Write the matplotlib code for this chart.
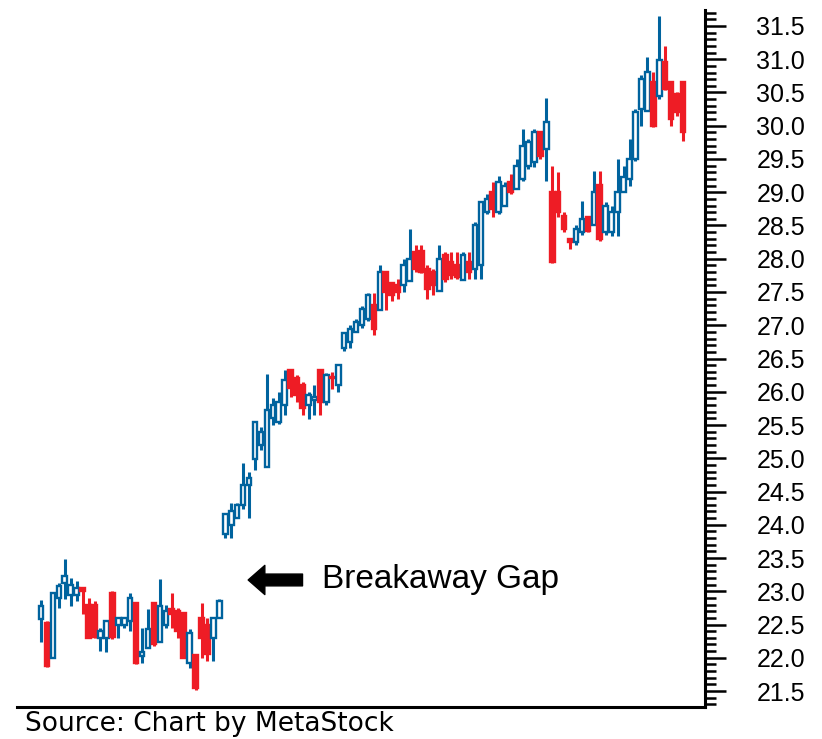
import matplotlib.pyplot as plt
from matplotlib.ticker import MultipleLocator

# Daily prices (open, high, low, close)
opens = [22.58, 22.53, 22.0, 22.9, 23.13, 22.95, 22.95, 23.05, 22.8, 22.8,
         22.3, 22.3, 22.98, 22.5, 22.5, 22.55, 22.83, 22.02, 22.14, 22.83,
         22.23, 22.5, 22.74, 22.7, 22.68, 21.92, 22.04, 22.6, 22.5, 22.3,
         22.6,
         23.86, 24.0, 24.1, 24.3, 24.6, 24.99, 25.2, 24.87, 25.6, 25.55,
         25.8, 26.33, 26.2, 26.1, 25.8, 25.88, 26.33, 25.85, 26.22, 26.1,
         26.66, 26.75, 26.9, 27.0, 27.1, 27.3, 27.23, 27.8, 27.63, 27.6,
         27.6, 27.66, 28.1, 28.11, 27.85, 27.8, 27.52, 28.05, 27.95, 27.9,
         27.68, 27.95, 27.85,
         27.9, 28.7, 29.0, 28.7, 28.8, 29.15, 29.05, 29.2, 29.4, 29.45,
         29.9, 29.65, 29.0, 29.0, 28.65, 28.3, 28.25, 28.4, 28.63, 28.5,
         29.11, 28.4, 28.4, 28.7, 29.0, 29.2, 29.5, 30.25, 30.22, 30.65,
         30.44, 30.96, 30.65, 30.47, 30.65]
highs = [22.87, 22.55, 22.97, 23.13, 23.48, 23.2, 23.15, 23.05, 22.9, 22.85,
         22.45, 22.56, 23.0, 22.6, 22.62, 22.97, 22.83, 22.45, 22.74, 22.83,
         23.18, 22.8, 22.97, 22.75, 22.68, 22.44, 22.06, 22.83, 22.6, 22.6,
         22.88,
         24.16, 24.32, 24.32, 24.93, 24.8, 25.54, 25.47, 26.26, 25.9, 26.0,
         26.33, 26.33, 26.25, 26.14, 25.99, 26.1, 26.33, 26.28, 26.3, 26.42,
         26.89, 27.0, 27.1, 27.29, 27.49, 27.49, 27.9, 27.8, 27.63, 27.7,
         28.0, 28.45, 28.2, 28.2, 27.9, 27.85, 28.2, 28.1, 28.1, 28.1,
         28.1, 28.1, 28.55,
         28.86, 28.97, 29.15, 29.25, 29.15, 29.27, 29.5, 29.95, 29.8, 29.95,
         29.9, 30.42, 29.39, 29.3, 28.7, 28.3, 28.5, 28.87, 28.63, 29.32,
         29.32, 28.85, 28.8, 29.5, 29.4, 29.8, 30.25, 30.77, 31.04, 30.81,
         31.65, 31.2, 30.65, 30.5, 30.65]
lows = [22.24, 21.86, 22.0, 22.75, 22.88, 22.78, 22.85, 22.66, 22.3, 22.3,
        22.1, 22.08, 22.28, 22.3, 22.45, 22.4, 21.9, 21.92, 22.14, 22.18,
        22.23, 22.45, 22.45, 22.3, 21.99, 21.84, 21.51, 22.0, 21.95, 21.95,
        22.6,
        23.8, 23.8, 24.1, 24.23, 24.1, 24.83, 25.13, 24.87, 25.5, 25.52,
        25.65, 25.92, 25.85, 25.65, 25.59, 25.65, 25.65, 25.8, 26.04, 26.0,
        26.62, 26.66, 26.9, 26.96, 27.07, 26.85, 27.23, 27.23, 27.36, 27.4,
        27.5, 27.66, 27.8, 27.78, 27.4, 27.45, 27.52, 27.65, 27.7, 27.7,
        27.68, 27.7, 27.7,
        27.7, 28.68, 28.63, 28.68, 28.8, 28.97, 29.05, 29.17, 29.35, 29.38,
        29.5, 29.17, 27.93, 28.63, 28.4, 28.15, 28.2, 28.35, 28.4, 28.5,
        28.26, 28.35, 28.34, 28.34, 29.0, 29.1, 29.47, 30.0, 30.22, 29.98,
        30.4, 30.54, 29.99, 30.14, 29.77]
closes = [22.78, 21.88, 22.97, 23.08, 23.23, 23.1, 23.05, 23.0, 22.3, 22.32,
          22.4, 22.56, 22.32, 22.6, 22.6, 22.9, 21.92, 22.08, 22.44, 22.2,
          22.78, 22.7, 22.66, 22.4, 22.0, 22.38, 21.55, 22.3, 22.05, 22.6,
          22.85,
          24.16, 24.2, 24.3, 24.6, 24.7, 25.54, 25.4, 25.72, 25.8, 25.85,
          26.18, 26.05, 25.95, 25.75, 25.95, 25.92, 25.85, 26.25, 26.2, 26.4,
          26.89, 26.95, 27.05, 27.25, 27.45, 26.95, 27.8, 27.5, 27.45, 27.5,
          27.9, 28.0, 27.85, 27.8, 27.55, 27.6, 28.0, 27.7, 27.75, 27.72,
          28.05, 27.8, 28.5,
          28.86, 28.9, 28.75, 29.15, 29.1, 29.0, 29.39, 29.7, 29.75, 29.9,
          29.55, 30.05, 27.95, 28.7, 28.45, 28.25, 28.45, 28.6, 28.42, 29.0,
          28.3, 28.8, 28.7, 29.0, 29.23, 29.5, 30.2, 30.7, 30.81, 30.0,
          30.99, 30.55, 30.1, 30.2, 29.9]

blue = '#00639e'
red = '#ee1c25'

fig = plt.figure(figsize=(8.22, 7.39), dpi=100)
ax = fig.add_axes([17 / 822, 1 - 707 / 739, 688 / 822, 697 / 739])

days = list(range(len(opens)))
for d, o, h, l, c in zip(days, opens, highs, lows, closes):
    up = c >= o
    col = blue if up else red
    ax.vlines(d, l, h, color=col, linewidth=2.2, zorder=2)
    body = max(abs(c - o), 0.02)
    ax.bar(d, body, bottom=min(o, c), width=0.78,
           facecolor='white' if up else red, edgecolor=col,
           linewidth=1.7, zorder=3)

ax.set_xlim(-4.04, len(opens) - 1 + 3.7)
ax.set_ylim(21.26, 31.74)

for side in ['left', 'top']:
    ax.spines[side].set_visible(False)
ax.spines['right'].set_linewidth(2.2)
ax.spines['bottom'].set_linewidth(2.2)

ax.set_xticks([])
ax.yaxis.tick_right()
ax.yaxis.set_major_locator(MultipleLocator(0.5))
ax.yaxis.set_minor_locator(MultipleLocator(0.1))
ax.yaxis.set_major_formatter(lambda v, pos: f'{v:.1f}')
ax.tick_params(axis='y', which='major', length=15, width=1.8, pad=22,
               labelsize=18, direction='out')
ax.tick_params(axis='y', which='minor', length=8, width=1.8, direction='out')
for lab in ax.get_yticklabels():
    lab.set_family('Liberation Sans')

# arrow pointing at the gap
ax.annotate('', xy=(0.336, 23.17), xytext=(0.415, 23.17),
            xycoords=('axes fraction', 'data'),
            textcoords=('axes fraction', 'data'),
            arrowprops=dict(arrowstyle='simple,head_width=2.1,head_length=1.2,tail_width=0.85',
                            color='black', shrinkA=0, shrinkB=0))
ax.text(0.443, 23.17, 'Breakaway Gap', transform=ax.get_yaxis_transform(),
        fontsize=24, family='Liberation Sans', va='center', ha='left')

fig.text(25 / 822, 1 - 724 / 739, 'Source: Chart by MetaStock',
         fontsize=19, va='center', ha='left')

plt.savefig('out.png', dpi=100)
